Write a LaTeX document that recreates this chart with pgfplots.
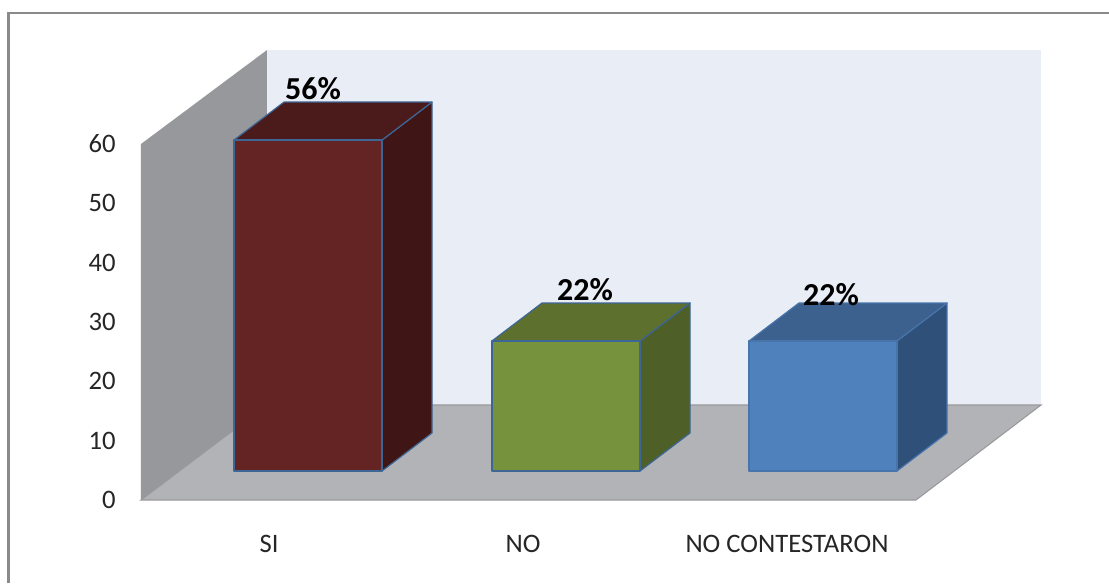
\documentclass[border=0pt]{standalone}
\usepackage{pgfplots}
\pgfplotsset{compat=1.18}
\usepackage{fontspec}
\setmainfont{Carlito}

\definecolor{wallback}{HTML}{E9EDF6}
\definecolor{wallside}{HTML}{96989C}
\definecolor{floorgray}{HTML}{B1B3B7}
\definecolor{edgegray}{HTML}{9A9A9C}
\definecolor{framegray}{HTML}{8A8A8A}
\definecolor{siF}{HTML}{632423}
\definecolor{siT}{HTML}{4A1B1A}
\definecolor{siS}{HTML}{3F1615}
\definecolor{noF}{HTML}{76923C}
\definecolor{noT}{HTML}{5E702D}
\definecolor{noS}{HTML}{4E5F27}
\definecolor{ncF}{HTML}{4F81BD}
\definecolor{ncT}{HTML}{3C618F}
\definecolor{ncS}{HTML}{2F5078}
\definecolor{baredge}{HTML}{3D6595}

% Bar base level, depth offset and scale of a bar standing inside the floor
\def\barbase{4.89}
\def\depthx{50}
\def\depthy{6.4}
\def\barscale{0.996}
\def\barwidth{148}

% #1 left edge, #2 value, #3 front, #4 top, #5 side, #6 outline
\newcommand{\cuboid}[6]{%
  \pgfmathsetmacro{\xr}{#1+\barwidth}%
  \pgfmathsetmacro{\xbl}{#1+\depthx}%
  \pgfmathsetmacro{\xbr}{\xr+\depthx}%
  \pgfmathsetmacro{\ytop}{\barbase+\barscale*#2}%
  \pgfmathsetmacro{\ybtop}{\ytop+\depthy}%
  \pgfmathsetmacro{\ybbase}{\barbase+\depthy}%
  \edef\doplots{%
    \noexpand\addplot[fill=#5,draw=#6,line width=0.9pt,line join=round] coordinates
      {(\xr,\barbase) (\xbr,\ybbase) (\xbr,\ybtop) (\xr,\ytop)} -- cycle;
    \noexpand\addplot[fill=#4,draw=#6,line width=0.9pt,line join=round] coordinates
      {(#1,\ytop) (\xbl,\ybtop) (\xbr,\ybtop) (\xr,\ytop)} -- cycle;
    \noexpand\addplot[fill=#3,draw=#6,line width=0.9pt,line join=round] coordinates
      {(#1,\barbase) (\xr,\barbase) (\xr,\ytop) (#1,\ytop)} -- cycle;
  }%
  \doplots
}

\begin{document}
\begin{tikzpicture}
\useasboundingbox (-105.75pt,-62.25pt) rectangle (726pt,375pt);
\begin{axis}[
  at={(0pt,0pt)}, anchor=south west,
  scale only axis,
  width=581.25pt, height=267pt,
  xmin=141, xmax=916,
  ymin=0, ymax=60,
  clip=false,
  axis line style={draw=none},
  major tick length=0pt,
  ytick={0,10,...,60},
  xtick={269,523,787},
  xticklabels={SI,NO,NO CONTESTARON},
  /pgf/number format/assume math mode=true,
  tick label style={font=\fontsize{20}{22}\selectfont, text=black!85},
  yticklabel style={anchor=east, xshift=-15.5pt},
  xticklabel style={anchor=center, yshift=-33pt},
]
  % Chart walls and floor
  \addplot[fill=wallside,draw=none] coordinates
    {(141,0) (141,60) (267,75.84) (267,16.01)} -- cycle;
  \addplot[fill=wallback,draw=none] coordinates
    {(267,16.01) (267,75.84) (1041,75.84) (1041,16.01)} -- cycle;
  \addplot[fill=floorgray,draw=edgegray,line width=0.8pt] coordinates
    {(141,0) (267,16.01) (1041,16.01) (916,0)} -- cycle;

  % Bars: SI, NO, NO CONTESTARON
  \cuboid{234}{56}{siF}{siT}{siS}{baredge}
  \cuboid{492}{22}{noF}{noT}{noS}{baredge}
  \cuboid{749}{22}{ncF}{ncT}{ncS}{ncF!90!black}

  % Value labels
  \node[font=\fontsize{24}{26}\selectfont\bfseries] at (axis cs:313,69.4) {56\%};
  \node[font=\fontsize{24}{26}\selectfont\bfseries] at (axis cs:585,35.5) {22\%};
  \node[font=\fontsize{24}{26}\selectfont\bfseries] at (axis cs:831,34.6) {22\%};
\end{axis}
% Outer chart frame, open at the right and bottom
\draw[framegray,line width=1.6pt] (-99.4pt,-62.25pt) -- (-99.4pt,365.4pt) -- (726pt,365.4pt);
\end{tikzpicture}
\end{document}
